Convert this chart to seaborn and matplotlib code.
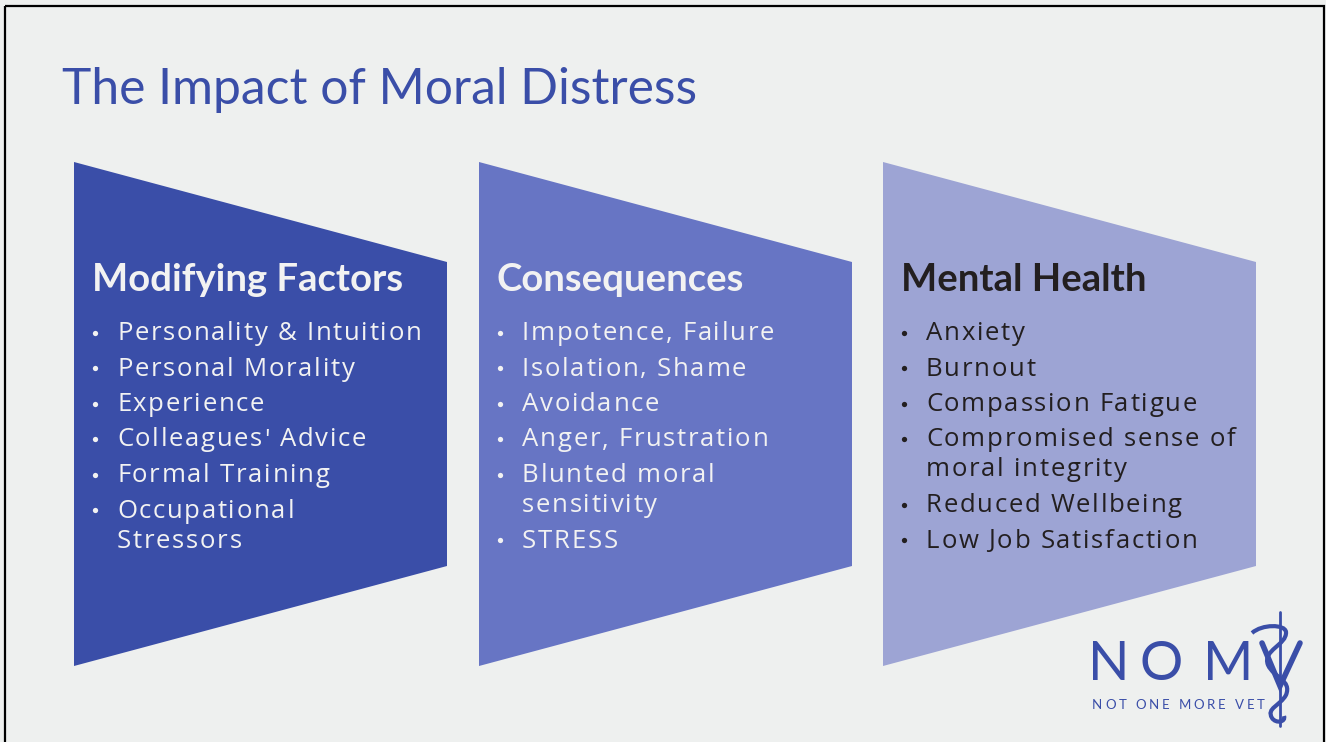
import numpy as np
import matplotlib
matplotlib.use("Agg")
import matplotlib.pyplot as plt
import seaborn as sns
from matplotlib.patches import Polygon, Rectangle, PathPatch
from matplotlib.path import Path

# slide content
title = "The Impact of Moral Distress"
headings = ["Modifying Factors", "Consequences", "Mental Health"]
factors = ["Personality & Intuition", "Personal Morality", "Experience",
           "Colleagues' Advice", "Formal Training", "Occupational\nStressors"]
consequences = ["Impotence, Failure", "Isolation, Shame", "Avoidance",
                "Anger, Frustration", "Blunted moral\nsensitivity", "STRESS"]
mental_health = ["Anxiety", "Burnout", "Compassion Fatigue",
                 "Compromised sense of\nmoral integrity", "Reduced Wellbeing",
                 "Low Job Satisfaction"]
panel_colors = ["#3a4ea8", "#6775c4", "#9da4d4"]
text_colors = ["#f2f2f2", "#f2f2f2", "#231f20"]
brand = "#3a4ea8"

sns.set_theme(style="white")
plt.rcParams["font.family"] = ["Lato", "DejaVu Sans"]

fig = plt.figure(figsize=(13.26, 7.42), dpi=100)
fig.patch.set_facecolor("#eef0ef")
ax = fig.add_axes([0, 0, 1, 1])
ax.set_xlim(0, 1326)
ax.set_ylim(742, 0)
ax.axis("off")
renderer = fig.canvas.get_renderer()


def text_width(s, **kw):
    t = ax.text(0, 0, s, **kw)
    w = t.get_window_extent(renderer=renderer).width
    t.remove()
    return w


def spaced_text(x, y, s, track, **kw):
    # draw a string letter by letter with extra tracking (px)
    bar = text_width("|", **kw)
    for i, ch in enumerate(s):
        if ch == " ":
            continue
        dx = text_width(s[:i] + "|", **kw) - bar if i else 0
        ax.text(x + dx + i * track, y, ch, va="baseline", **kw)


# outer frame
ax.add_patch(Rectangle((5, 6), 1319, 745, fill=False, ec="black", lw=1.6))

ax.text(62, 104, title, fontsize=35.8, color=brand, va="baseline")

panel_x = [74, 479, 883]
panel_w = 373
bullets = [factors, consequences, mental_health]
body = dict(fontsize=18.5, family=["Open Sans", "DejaVu Sans"])

for i, (x0, items) in enumerate(zip(panel_x, bullets)):
    x1 = x0 + panel_w
    ax.add_patch(Polygon([(x0, 162), (x1, 262), (x1, 566), (x0, 666)],
                         closed=True, fc=panel_colors[i], ec="none"))
    ax.text(x0 + 18, 291, headings[i], fontsize=27.5, fontweight="bold",
            color=text_colors[i], va="baseline")
    y = 340
    for item in items:
        ax.plot(x0 + 21, y - 7.5, "o", ms=3.8, color=text_colors[i], mec="none")
        for j, line in enumerate(item.split("\n")):
            if j > 0:
                y += 30
            spaced_text(x0 + 43, y, line, 1.7, color=text_colors[i], **body)
        y += 35.5

# NOMV logo
for ch, lx in zip("NOM", [1088, 1139, 1203]):
    ax.text(lx, 680, ch, fontsize=39, color=brand, va="baseline")
spaced_text(1092, 709, "NOT ONE MORE VET", 2.8, fontsize=9.5, color=brand)
ax.plot([1280, 1280], [612, 726], color=brand, lw=2)
ax.plot([1262, 1280, 1300], [643, 686, 643], color=brand, lw=4,
        solid_joinstyle="miter")
snake = Path([(1252, 633), (1262, 624), (1285, 624), (1286, 632),
              (1287, 645), (1262, 650), (1268, 665),
              (1274, 678), (1292, 680), (1286, 695),
              (1280, 706), (1266, 708), (1272, 718),
              (1276, 724), (1286, 722), (1284, 716)],
             [Path.MOVETO, Path.CURVE4, Path.CURVE4, Path.CURVE4,
              Path.CURVE4, Path.CURVE4, Path.CURVE4,
              Path.CURVE4, Path.CURVE4, Path.CURVE4,
              Path.CURVE4, Path.CURVE4, Path.CURVE4,
              Path.CURVE4, Path.CURVE4, Path.CURVE4])
ax.add_patch(PathPatch(snake, fc="none", ec=brand, lw=3))

fig.savefig("out.png", dpi=100, facecolor=fig.get_facecolor())
